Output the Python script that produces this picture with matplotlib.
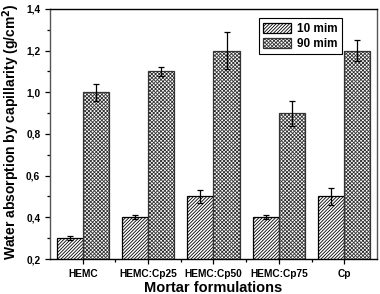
import matplotlib
matplotlib.use("Agg")
import matplotlib.pyplot as plt
import numpy as np
from matplotlib.ticker import MultipleLocator, FuncFormatter, FixedLocator

categories = ["HEMC", "HEMC:Cp25", "HEMC:Cp50", "HEMC:Cp75", "Cp"]
vals_10 = [0.30, 0.40, 0.50, 0.40, 0.50]
err_10 = [0.01, 0.01, 0.03, 0.01, 0.04]
vals_90 = [1.00, 1.10, 1.20, 0.90, 1.20]
err_90 = [0.04, 0.02, 0.09, 0.06, 0.05]
series_labels = ["10 mim", "90 mim"]

plt.rcParams['font.family'] = ['Liberation Sans', 'DejaVu Sans']
plt.rcParams['hatch.linewidth'] = 0.6

fig = plt.figure(figsize=(3.8, 2.94), dpi=100)
ax = fig.add_axes([0.1316, 0.119, 0.8604, 0.851])

x = np.arange(1, len(categories) + 1)
w = 0.4
ax.bar(x - w/2, vals_10, w, bottom=0, facecolor='white', edgecolor='black',
       hatch='//////////', linewidth=0.9, label=series_labels[0], zorder=2)
ax.bar(x + w/2, vals_90, w, bottom=0, facecolor='white', edgecolor='#333333',
       hatch='xxxxxxxxx', linewidth=0.9, label=series_labels[1], zorder=2)
ax.errorbar(x - w/2, vals_10, yerr=err_10, fmt='none', ecolor='black',
            elinewidth=0.9, capsize=2.5, capthick=0.9, zorder=3)
ax.errorbar(x + w/2, vals_90, yerr=err_90, fmt='none', ecolor='black',
            elinewidth=0.9, capsize=2.5, capthick=0.9, zorder=3)

ax.set_xlim(0.5, 5.5)
ax.set_ylim(0.2, 1.4)
ax.yaxis.set_major_locator(MultipleLocator(0.2))
ax.yaxis.set_minor_locator(MultipleLocator(0.1))
ax.yaxis.set_major_formatter(FuncFormatter(lambda v, p: f"{v:.1f}".replace('.', ',')))
ax.set_xticks(x)
ax.set_xticklabels(categories)
ax.xaxis.set_minor_locator(FixedLocator([1.5, 2.5, 3.5, 4.5]))

ax.tick_params(axis='both', which='major', direction='out', length=3.5, width=0.9,
               labelsize=7.3)
ax.tick_params(axis='both', which='minor', direction='out', length=2, width=0.9)
for lab in ax.get_xticklabels() + ax.get_yticklabels():
    lab.set_fontweight('bold')

for s in ax.spines.values():
    s.set_linewidth(1.0)
ax.spines['left'].set_color('#555555')
ax.spines['right'].set_color('#555555')

ax.set_ylabel("Water absorption by capillarity (g/cm$^\\mathbf{2}$)", fontsize=10.0,
              fontweight='bold')
ax.yaxis.set_label_coords(-0.087, 0.51)
ax.set_xlabel("Mortar formulations", fontsize=10.5, fontweight='bold')
ax.xaxis.set_label_coords(0.5, -0.088)

leg = ax.legend(loc='upper left', bbox_to_anchor=(0.62, 0.985), fontsize=8.5,
                frameon=True, fancybox=False, edgecolor='black', framealpha=1,
                handlelength=2.4, handleheight=1.0, borderpad=0.35,
                labelspacing=0.25, handletextpad=0.5)
leg.get_frame().set_linewidth(0.8)
for t in leg.get_texts():
    t.set_fontweight('bold')

fig.savefig("out.png", dpi=100)
